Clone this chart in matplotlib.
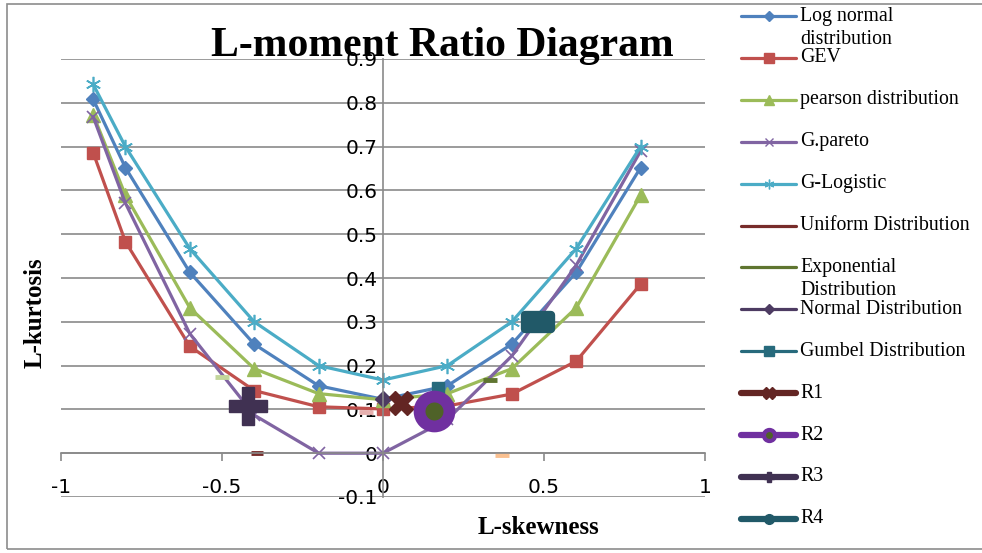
import numpy as np
import matplotlib
matplotlib.use("Agg")
import matplotlib.pyplot as plt
from matplotlib.lines import Line2D
from matplotlib.markers import MarkerStyle
from matplotlib.path import Path
from matplotlib.patches import Rectangle

plt.rcParams['axes.unicode_minus'] = False

# theoretical curves (L-skewness vs L-kurtosis)
tau3 = [-0.9, -0.8, -0.6, -0.4, -0.2, 0.0, 0.2, 0.4, 0.6, 0.8]
lognormal = [0.808, 0.652, 0.413, 0.249, 0.154, 0.123, 0.154, 0.249, 0.413, 0.652]
gev = [0.686, 0.483, 0.244, 0.143, 0.106, 0.101, 0.108, 0.135, 0.210, 0.386]
pearson = [0.773, 0.589, 0.332, 0.193, 0.136, 0.122, 0.136, 0.193, 0.332, 0.589]
gpareto = [0.768, 0.571, 0.273, 0.087, 0.0, 0.0, 0.077, 0.222, 0.429, 0.690]
glogistic = [0.842, 0.700, 0.467, 0.300, 0.200, 0.167, 0.200, 0.300, 0.467, 0.700]

# single-point distributions
uniform_pt = (-0.39, 0.0)
expon_pt = (0.333, 0.167)
normal_pt = (0.0, 0.123)
gumbel_pt = (0.170, 0.150)
extra_pts = [(-0.50, 0.174), (-0.053, 0.094), (0.37, -0.004)]
extra_cols = ['#C3D69B', '#E6B0AF', '#FAC090']

# regions
r1 = (0.056, 0.114)
r2 = (0.158, 0.096)
r3 = (-0.420, 0.107)
r4 = (0.481, 0.299)

labels = ['Log normal\ndistribution', 'GEV', 'pearson distribution', 'G.pareto',
          'G-Logistic', 'Uniform Distribution', 'Exponential\nDistribution',
          'Normal Distribution', 'Gumbel Distribution', 'R1', 'R2', 'R3', 'R4']

W, H = 982, 553
fig = plt.figure(figsize=(W / 100, H / 100), dpi=100)

def fx(px):
    return px / W

def fy(py):
    return 1 - py / H

# outer chart border
fig.add_artist(Rectangle((fx(7), fy(549)), fx(990) - fx(7), fy(4) - fy(549),
                         transform=fig.transFigure, fill=False, ec='#8c8c8c', lw=1.2))

ax = fig.add_axes([fx(61), fy(497), fx(705) - fx(61), fy(59) - fy(497)])
ax.set_xlim(-1, 1)
ax.set_ylim(-0.1, 0.9)

gray = '#8a8a8a'
for s in ['top', 'right']:
    ax.spines[s].set_visible(False)
ax.spines['left'].set_position(('data', 0))
ax.spines['bottom'].set_position(('data', 0))
for s in ['left', 'bottom']:
    ax.spines[s].set_color(gray)
    ax.spines[s].set_linewidth(1.2)

yt = [-0.1, 0, 0.1, 0.2, 0.3, 0.4, 0.5, 0.6, 0.7, 0.8, 0.9]
ax.set_yticks(yt)
ax.set_yticklabels(['-0.1', '0', '0.1', '0.2', '0.3', '0.4', '0.5', '0.6', '0.7', '0.8', '0.9'])
xt = [-1, -0.5, 0, 0.5, 1]
ax.set_xticks(xt)
ax.set_xticklabels(['-1', '-0.5', '0', '0.5', '1'])
ax.tick_params(axis='y', length=0, pad=4, labelsize=14.5)
ax.tick_params(axis='x', length=6, pad=12, labelsize=14.5, color=gray, width=1.2)
ax.yaxis.grid(True, color=gray, lw=1.2)
ax.set_axisbelow(True)

ms = dict(lw=2.3, clip_on=False)
ax.plot(tau3, lognormal, color='#4F81BD', marker='D', markersize=7, **ms)
ax.plot(tau3, gev, color='#C0504D', marker='s', markersize=9, **ms)
ax.plot(tau3, pearson, color='#9BBB59', marker='^', markersize=10, **ms)
ax.plot(tau3, gpareto, color='#8064A2', marker='x', markersize=9, mew=1.2, **ms)
ax.plot(tau3, glogistic, color='#4BACC6', marker=(6, 2, 0), markersize=11, mew=1.2, **ms)

for (x, y), c in zip(extra_pts, extra_cols):
    ax.plot([x], [y], color=c, marker='_', markersize=10, mew=3.5, ls='none')
ax.plot([uniform_pt[0]], [uniform_pt[1]], color='#772C2A', marker='_', markersize=8, mew=3.5, ls='none')
ax.plot([expon_pt[0]], [expon_pt[1]], color='#5F7530', marker='_', markersize=10, mew=3.5, ls='none')
ax.plot([normal_pt[0]], [normal_pt[1]], color='#4D3B62', marker='D', markersize=8, ls='none')
ax.plot([gumbel_pt[0]], [gumbel_pt[1]], color='#276A7C', marker='s', markersize=9, ls='none')

dash = MarkerStyle(Path([(-1, -0.53), (1, -0.53), (1, 0.53), (-1, 0.53), (-1, -0.53)],
                        closed=True), joinstyle='round')
ax.plot([r1[0]], [r1[1]], color='#632523', marker='X', markersize=17, ls='none')
ax.plot([r2[0]], [r2[1]], marker='o', markersize=21.5, mfc='#4F6228', mec='#7030A0',
        mew=8.5, ls='none')
ax.plot([r3[0]], [r3[1]], color='#403152', marker='P', markersize=28, ls='none')
ax.plot([r4[0]], [r4[1]], color='#215968', marker=dash, markersize=19, mew=6, ls='none')

serif = 'Liberation Serif'
fig.text(fx(442), fy(56), 'L-moment Ratio Diagram', ha='center', va='baseline',
         fontsize=30, fontweight='bold', family=serif, zorder=10)
fig.text(fx(35), fy(313), 'L-kurtosis', rotation=90, ha='center', va='center',
         fontsize=18, fontweight='bold', family=serif)
fig.text(fx(538), fy(527), 'L-skewness', ha='center', va='center',
         fontsize=18, fontweight='bold', family=serif)

# legend drawn entry by entry
leg_style = [
    dict(color='#4F81BD', marker='D', markersize=5, lw=2.3),
    dict(color='#C0504D', marker='s', markersize=7, lw=2.3),
    dict(color='#9BBB59', marker='^', markersize=7, lw=2.3),
    dict(color='#8064A2', marker='x', markersize=6, mew=1, lw=2.3),
    dict(color='#4BACC6', marker=(6, 2, 0), markersize=7, mew=1, lw=2.3),
    dict(color='#772C2A', lw=2.3),
    dict(color='#5F7530', lw=2.3),
    dict(color='#4D3B62', marker='D', markersize=5, lw=2.3),
    dict(color='#276A7C', marker='s', markersize=7, lw=2.3),
    dict(color='#632523', marker='X', markersize=8, lw=4.5),
    dict(color='#7030A0', marker='o', markersize=8, mfc='#4F6228', mec='#7030A0', mew=3, lw=4.5),
    dict(color='#403152', marker='P', markersize=7, lw=4.5),
    dict(color='#215968', marker='o', markersize=7, lw=4.5),
]
for i, (lab, st) in enumerate(zip(labels, leg_style)):
    y = 16 + i * 41.9
    st = dict(st)
    mk = {k: st.pop(k) for k in ['marker', 'markersize', 'mfc', 'mec', 'mew'] if k in st}
    fig.add_artist(Line2D([fx(741), fx(796)], [fy(y), fy(y)], transform=fig.transFigure,
                          solid_capstyle='round', **st))
    if mk:
        fig.add_artist(Line2D([fx(768.5)], [fy(y)], transform=fig.transFigure,
                              color=st['color'], ls='none', **mk))
    for j, line in enumerate(lab.split('\n')):
        fig.text(fx(800), fy(y + j * 23), line, ha='left', va='center',
                 fontsize=14.3, family=serif)

fig.savefig('out.png', dpi=100)
